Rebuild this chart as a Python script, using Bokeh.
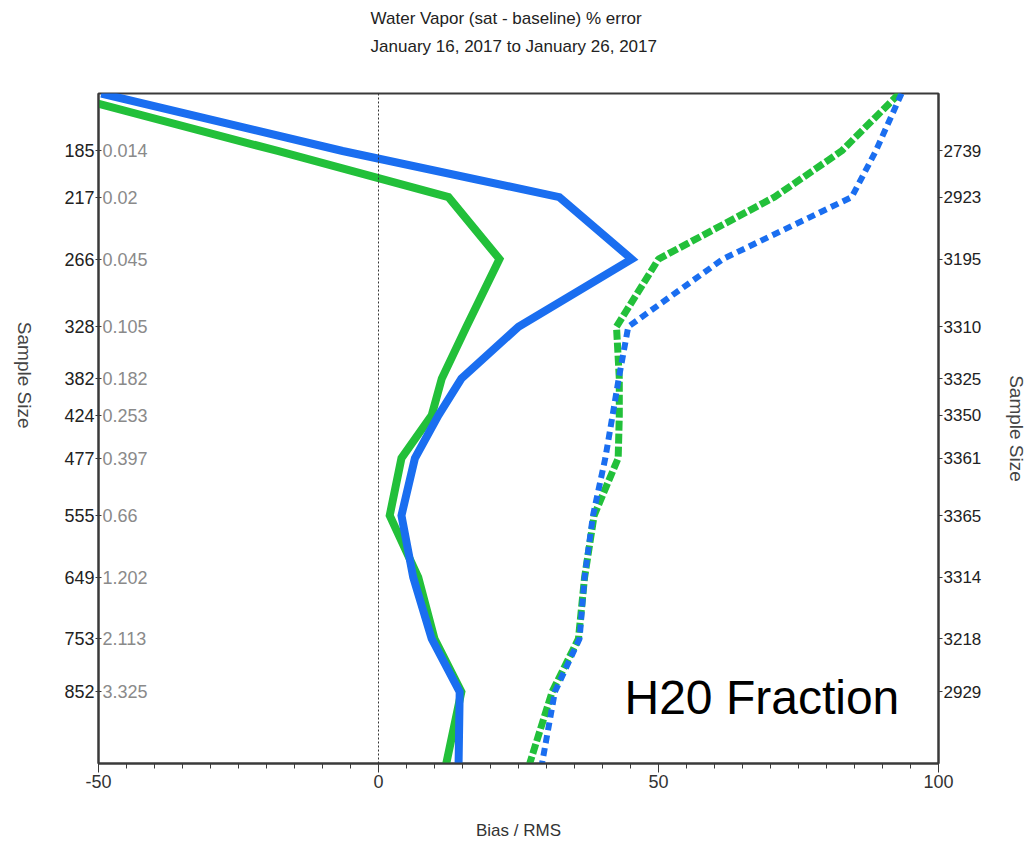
import math
from bokeh.plotting import figure
from bokeh.models import (Range1d, FixedTicker, LinearAxis, Span, Label,
                          ColumnDataSource, Title)
from bokeh.core.properties import value
from bokeh.embed import file_html
from bokeh.resources import INLINE

# Pressure levels (hPa); the profile also runs to the top and bottom of the chart
profile_levels = [150, 185, 217, 266, 328, 382, 424, 477, 555, 649, 753, 852, 1000]
labeled_levels = [185, 217, 266, 328, 382, 424, 477, 555, 649, 753, 852]
mean_h2o = ["0.014", "0.02", "0.045", "0.105", "0.182", "0.253", "0.397",
            "0.66", "1.202", "2.113", "3.325"]
sample_size = ["2739", "2923", "3195", "3310", "3325", "3350", "3361",
               "3365", "3314", "3218", "2929"]

# Percent error profiles (bias and RMS) for the two retrievals
bias_blue = [-49.5, -6.4, 32.3, 45.2, 25.0, 14.8, 10.7, 6.5, 4.1, 6.2, 9.5, 14.5, 14.3]
bias_green = [-57.0, -18.0, 12.5, 21.6, 15.7, 11.3, 9.5, 4.1, 2.0, 7.1, 10.0, 14.8, 12.1]
rms_blue = [93.4, 88.8, 84.5, 61.5, 44.6, 42.9, 41.8, 40.5, 38.3, 36.8, 35.9, 31.5, 29.2]
rms_green = [93.0, 82.7, 70.7, 50.0, 42.5, 43.0, 43.0, 42.8, 38.5, 36.8, 35.7, 31.0, 27.0]

KAPPA = 0.286
P_TOP, P_BOTTOM = 150, 1000


def kappa(p):
    return p ** KAPPA


BLUE = "#1a6ef0"
GREEN = "#22c03a"
SANS = "Liberation Sans, Arial, sans-serif"
AXIS_COLOR = "#3a3a3a"

W, H = 1030, 848
LEFT, RIGHT, TOP, BOTTOM = 97, 92, 93, 85

p = figure(width=W, height=H, output_backend="svg", toolbar_location=None,
           title=None,
           x_range=Range1d(-50, 100),
           y_range=Range1d(kappa(P_BOTTOM), kappa(P_TOP)),
           min_border_left=LEFT, min_border_right=RIGHT,
           min_border_top=TOP, min_border_bottom=BOTTOM,
           background_fill_color="white", border_fill_color="white")
p.grid.visible = False
p.outline_line_color = AXIS_COLOR
p.outline_line_width = 2

# two-line heading; the trailing line break keeps it near the top edge
p.add_layout(Title(text="Water Vapor (sat - baseline) % error\n"
                        "January 16, 2017  to  January 26, 2017\n",
                   align="center", vertical_align="top",
                   text_font=SANS, text_font_size="17px",
                   text_font_style="normal", text_line_height=1.45,
                   text_color="#222222", standoff=17), "above")

ys = [kappa(v) for v in profile_levels]
tick_ys = [kappa(v) for v in labeled_levels]

# x axis
xa = p.xaxis[0]
xa.ticker = FixedTicker(ticks=[-50, 0, 50, 100], minor_ticks=list(range(-50, 101, 5)))
xa.major_label_overrides = {-50: "-50", 0: "0", 50: "50", 100: "100"}
xa.axis_line_color = AXIS_COLOR
xa.axis_line_width = 2
xa.major_tick_line_color = AXIS_COLOR
xa.major_tick_in = 0
xa.major_tick_out = 9
xa.minor_tick_line_color = AXIS_COLOR
xa.minor_tick_in = 0
xa.minor_tick_out = 5
xa.major_label_text_font = SANS
xa.major_label_text_font_size = "18px"
xa.major_label_text_color = "#333333"
xa.major_label_standoff = 2
xa.axis_label = "Bias / RMS"
xa.axis_label_text_font = SANS
xa.axis_label_text_font_size = "17px"
xa.axis_label_text_font_style = "normal"
xa.axis_label_text_color = "#333333"
xa.axis_label_standoff = 30

# left axis: pressure levels
ya = p.yaxis[0]
ya.ticker = FixedTicker(ticks=tick_ys, minor_ticks=[])
ya.major_label_overrides = {t: str(v) for t, v in zip(tick_ys, labeled_levels)}
ya.axis_line_color = AXIS_COLOR
ya.axis_line_width = 2
ya.major_tick_line_color = AXIS_COLOR
ya.major_tick_in = 3
ya.major_tick_out = 3
ya.minor_tick_line_color = None
ya.major_label_text_font = SANS
ya.major_label_text_font_size = "18px"
ya.major_label_text_color = "#222222"
ya.major_label_standoff = 1
ya.axis_label = "Sample Size"
ya.axis_label_orientation = -math.pi / 2
ya.axis_label_text_font = SANS
ya.axis_label_text_font_size = "19px"
ya.axis_label_text_font_style = "normal"
ya.axis_label_text_color = "#444444"
ya.axis_label_standoff = 37

# right axis: sample size per level
ra = LinearAxis(ticker=FixedTicker(ticks=tick_ys, minor_ticks=[]))
ra.major_label_overrides = {t: v for t, v in zip(tick_ys, sample_size)}
ra.axis_line_color = AXIS_COLOR
ra.axis_line_width = 2
ra.major_tick_line_color = AXIS_COLOR
ra.major_tick_in = 0
ra.major_tick_out = 4
ra.minor_tick_line_color = None
ra.major_label_text_font = SANS
ra.major_label_text_font_size = "17px"
ra.major_label_text_color = "#222222"
ra.major_label_standoff = 1
ra.axis_label = "Sample Size"
ra.axis_label_orientation = "parallel"
ra.axis_label_text_font = SANS
ra.axis_label_text_font_size = "19px"
ra.axis_label_text_font_style = "normal"
ra.axis_label_text_color = "#444444"
ra.axis_label_standoff = 22
p.add_layout(ra, "right")

# zero line
p.add_layout(Span(location=0, dimension="height", line_color="#333333",
                  line_width=1, line_dash="2 2"))

src = ColumnDataSource(dict(y=ys, bias_blue=bias_blue, bias_green=bias_green,
                            rms_blue=rms_blue, rms_green=rms_green))

p.line("rms_green", "y", source=src, line_color=GREEN, line_width=7,
       line_dash="10 3")
p.line("rms_blue", "y", source=src, line_color=BLUE, line_width=6,
       line_dash="8 5")
p.line("bias_green", "y", source=src, line_color=GREEN, line_width=8,
       line_join="miter")
p.line("bias_blue", "y", source=src, line_color=BLUE, line_width=8,
       line_join="miter")

# mean water vapour amounts next to the left axis
p.text(x=[-50] * len(tick_ys), y=tick_ys, text=mean_h2o, x_offset=4,
       text_align="left", text_baseline="middle", text_color="#8a8a8a",
       text_font=value(SANS), text_font_size="18px")

# panel tag inside the frame
p.add_layout(Label(x=526, y=66, x_units="screen", y_units="screen",
                   text="H20 Fraction", text_align="left", text_baseline="middle",
                   text_font=SANS, text_font_size="48px", text_color="#000000"))

open("out.html", "w").write(file_html(p, INLINE))
